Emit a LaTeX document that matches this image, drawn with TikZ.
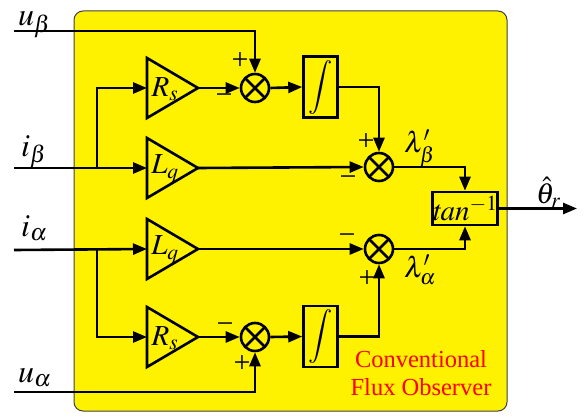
\documentclass[tikz,border=0pt]{standalone}
\usepackage{mathptmx}
\usepackage[no-math]{fontspec}
\setmainfont{Liberation Serif}
\usetikzlibrary{arrows.meta}
\tikzset{
 wire/.style={line width=2.6pt},
 arr/.style={wire,-{Triangle[length=14pt,width=11pt]}},
 sumnode/.style={circle,draw,line width=2.6pt,minimum size=28pt,inner sep=0pt,fill=yellow,
   path picture={\draw[line width=2.6pt] (path picture bounding box.north west)--(path picture bounding box.south east) (path picture bounding box.north east)--(path picture bounding box.south west);}},
 intbox/.style={draw,line width=2.6pt,fill=yellow,minimum width=34pt,minimum height=61pt,inner sep=0pt},
 inlbl/.style={font=\fontsize{32}{32}\selectfont, inner sep=0pt},
 lbl/.style={font=\fontsize{29}{29}\selectfont, inner sep=0pt},
 glbl/.style={font=\fontsize{29}{29}\selectfont, inner sep=0pt},
 sign/.style={font=\fontsize{30}{30}\selectfont, inner sep=0pt, anchor=base},
 gain/.style={draw,line width=2.6pt,fill=yellow,line join=miter},
 panel/.style={fill=yellow, draw=black!75, line width=1pt, rounded corners=9pt},
}
\begin{document}
\begin{tikzpicture}[x=1pt,y=-1pt]
\useasboundingbox (0,0) rectangle (585,417);
\draw[panel] (74,11) rectangle (507,411);
% gain triangles
\draw[gain] (147,58) -- (198,88) -- (147,118) -- cycle;
\draw[gain] (147,138) -- (198,168) -- (147,198) -- cycle;
\draw[gain] (147,219) -- (198,249) -- (147,279) -- cycle;
\draw[gain] (147,307) -- (198,337) -- (147,367) -- cycle;
\coordinate (rsbin) at (147,88);  \coordinate (rsbout) at (198,88);
\coordinate (lqbin) at (147,168); \coordinate (lqbout) at (198,168);
\coordinate (lqain) at (147,249); \coordinate (lqaout) at (198,249);
\coordinate (rsain) at (147,337); \coordinate (rsaout) at (198,337);
\node[glbl] (rsb) at (165,89) {$R_s$};
\node[glbl] (lqb) at (165,169) {$L_q$};
\node[glbl] (lqa) at (165,250) {$L_q$};
\node[glbl] (rsa) at (165,338) {$R_s$};
% sums
\node[sumnode] (s1) at (255,88) {};
\node[sumnode] (s2) at (379,167) {};
\node[sumnode] (s4) at (379,249) {};
\node[sumnode] (s3) at (255,337) {};
% integrators
\node[intbox] (int1) at (320.5,87) {\fontsize{27}{27}\selectfont$\displaystyle\int$};
\node[intbox] (int2) at (320.5,336.5) {\fontsize{27}{27}\selectfont$\displaystyle\int$};
% arctan
\node[draw,line width=2.6pt,fill=yellow,minimum width=58pt,minimum height=33pt,inner sep=0pt] (tan) at (465,208.5) {\fontsize{29}{29}\selectfont$\mathit{tan}^{-1}$};
% input/output points
\coordinate (ubin) at (14,31);
\coordinate (ibin) at (14,168);
\coordinate (iain) at (14,250);
\coordinate (uain) at (14,392);
\coordinate (brb) at (97,168);
\coordinate (bra) at (97,250);
\coordinate (out) at (577,208.5);
% labels
\node[inlbl,anchor=base west] (ub) at (18,26) {$u_\beta$};
\node[inlbl,anchor=base west] (ib) at (21,156) {$i_\beta$};
\node[inlbl,anchor=base west] (ia) at (21,236) {$i_\alpha$};
\node[inlbl,anchor=base west] (ua) at (18,382) {$u_\alpha$};
\node[lbl,anchor=base west] (th) at (536,203) {$\hat{\theta}_r$};
\node[lbl,anchor=base west] (lb) at (404,152) {$\lambda'_\beta$};
\node[lbl,anchor=base west] (la) at (404,277) {$\lambda'_\alpha$};
% signs (placed by baseline)
\node[sign] (p1) at (240,70) {+};
\node[sign] (m1) at (224,104) {−};
\node[sign] (p2) at (366,150) {+};
\node[sign] (m2) at (348,186) {−};
\node[sign] (m4) at (347,244) {−};
\node[sign] (p4) at (367,287) {+};
\node[sign] (m3) at (225,333) {−};
\node[sign] (p3) at (242,372) {+};
% title
\node[text=red,font=\fontsize{24.5}{28}\selectfont,align=center,inner sep=0pt] (title) at (421,373) {Conventional\\Flux Observer};
% connectors beta
\draw[arr] (ubin) -| (s1.north);
\draw[arr] (ibin) -- (lqbin);
\draw[arr] (brb) |- (rsbin);
\draw[arr] (rsbout) -- (s1.west);
\draw[arr] (s1.east) -- (int1.west);
\draw[arr] (int1.east) -| (s2.north);
\draw[arr] (lqbout) -- (s2.west);
\draw[arr] (s2.east) -| (tan.north);
% connectors alpha
\draw[arr] (iain) -- (lqain);
\draw[arr] (bra) |- (rsain);
\draw[arr] (uain) -| (s3.south);
\draw[arr] (rsaout) -- (s3.west);
\draw[arr] (s3.east) -- (int2.west);
\draw[arr] (int2.east) -| (s4.south);
\draw[arr] (lqaout) -- (s4.west);
\draw[arr] (s4.east) -| (tan.south);
\draw[arr] (tan.east) -- (out);
\end{tikzpicture}
\end{document}
